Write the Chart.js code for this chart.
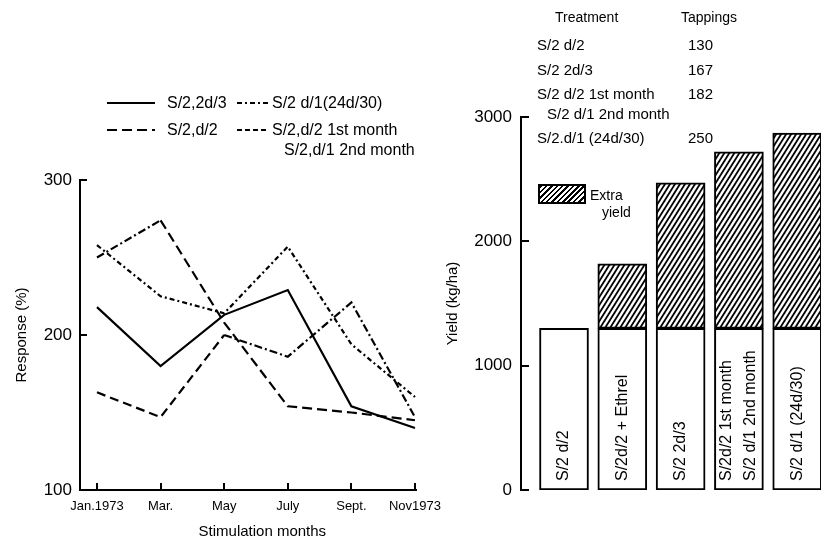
<!DOCTYPE html>
<html><head><meta charset="utf-8">
<script src="https://cdn.jsdelivr.net/npm/chart.js@4.4.1/dist/chart.umd.min.js"></script>
<style>
body{margin:0;background:#fff;width:821px;height:542px;overflow:hidden;position:relative;font-family:"Liberation Sans",Arial,sans-serif;color:#000}
canvas{position:absolute;top:0}
.t{position:absolute;white-space:nowrap;line-height:1;transform:translateY(-50%)}
.hatch{position:absolute;border:2px solid #000;box-sizing:border-box;background:repeating-linear-gradient(135deg,#000 0 1.7px,#fff 1.7px 3.8px)}
</style></head><body>
<canvas id="c1" width="460" height="542" style="left:0"></canvas>
<canvas id="c2" width="391" height="542" style="left:430px"></canvas>
<div id="ov"></div>
<script>
// ---- Left chart data (Response %, by stimulation month) ----
const months = ['Jan.1973', 'Mar.', 'May', 'July', 'Sept.', 'Nov1973'];
const respS2_2d3 = [218, 180, 213, 229, 154, 140];
const respS2_d2 = [250, 274, 208, 154, 150, 145];
const respS2_d1_24d30 = [258, 225, 214, 257, 194, 160];
const respS2_d2first_d1second = [163, 147, 200, 186, 221, 147];
const responseTicks = [100, 200, 300];

// ---- Right chart data (Yield kg/ha) ----
const barLabels = ['S/2 d/2', 'S/2d/2 + Ethrel', 'S/2 2d/3', 'S/2d/2 1st month\nS/2 d/1 2nd month', 'S/2 d/1 (24d/30)'];
const baseYield = [1300, 1300, 1300, 1300, 1300];
const extraYield = [0, 520, 1170, 1420, 1570];
const yieldTicks = [0, 1000, 2000, 3000];

// ---- Table data ----
const tableTreatments = ['S/2 d/2', 'S/2 2d/3', 'S/2 d/2 1st month', 'S/2.d/1 (24d/30)'];
const tableSubline = ['', '', 'S/2 d/1 2nd month', ''];
const tableTappings = [130, 167, 182, 250];

const FONT = '"Liberation Sans", Arial, sans-serif';
Chart.defaults.font.family = FONT;
Chart.defaults.color = '#000';

const inwardTicks = {
  id: 'inwardTicks',
  afterDraw(chart, args, opts) {
    const {ctx, chartArea: a, scales} = chart;
    ctx.save(); ctx.strokeStyle = '#000'; ctx.lineWidth = 2;
    scales.y.ticks.forEach(t => {
      const py = Math.round(scales.y.getPixelForValue(t.value));
      ctx.beginPath(); ctx.moveTo(a.left, py); ctx.lineTo(a.left + opts.len, py); ctx.stroke();
    });
    if (opts.xTicks) {
      scales.x.ticks.forEach(t => {
        const px = Math.round(scales.x.getPixelForValue(t.value));
        ctx.beginPath(); ctx.moveTo(px, a.bottom); ctx.lineTo(px, a.bottom - opts.len); ctx.stroke();
      });
    }
    ctx.restore();
  }
};

const xTitle = {
  id: 'xTitle',
  afterDraw(chart, args, opts) {
    const {ctx, scales: {x}} = chart;
    ctx.save(); ctx.font = '15px ' + FONT; ctx.fillStyle = '#000';
    ctx.textAlign = 'center'; ctx.textBaseline = 'middle';
    ctx.fillText(opts.text, x.getPixelForValue(2.6), x.bottom - 10);
    ctx.restore();
  }
};

const styles = [
  {label: 'S/2,2d/3', data: respS2_2d3, dash: []},
  {label: 'S/2,d/2', data: respS2_d2, dash: [10, 5], seg0: [8, 3, 2, 3]},
  {label: 'S/2 d/1(24d/30)', data: respS2_d1_24d30, dash: [5, 3, 2, 3]},
  {label: 'S/2,d/2 1st month\nS/2,d/1 2nd month', data: respS2_d2first_d1second, dash: [9, 5], late: [8, 3, 2, 3]}
];

new Chart(document.getElementById('c1'), {
  type: 'line',
  data: {
    datasets: styles.map(s => ({
      label: s.label,
      data: s.data.map((v, i) => ({x: i, y: v})),
      borderColor: '#000', borderWidth: 2.2, pointRadius: 0, tension: 0, fill: false,
      borderDash: s.dash,
      segment: {
        borderDash: ctx => {
          if (s.seg0 && ctx.p0DataIndex === 0) return s.seg0;
          if (s.late && ctx.p0DataIndex >= 2) return s.late;
          return s.dash;
        }
      }
    }))
  },
  options: {
    responsive: false, animation: false,
    layout: {padding: {left: 0, top: 180, right: 44, bottom: 0}},
    plugins: {legend: {display: false}, tooltip: {enabled: false}, inwardTicks: {len: 7, xTicks: true}, xTitle: {text: 'Stimulation months'}},
    scales: {
      x: {
        type: 'linear', min: -0.267, max: 5.016,
        afterBuildTicks: s => { s.ticks = months.map((m, i) => ({value: i})); },
        afterFit: s => { s.height = 52; },
        grid: {display: false, drawTicks: false},
        border: {display: true, color: '#000', width: 2},
        ticks: {callback: v => months[v], padding: 9, autoSkip: false, maxRotation: 0, font: {size: 13}, color: '#000'}
      },
      y: {
        min: 100, max: 300,
        afterBuildTicks: s => { s.ticks = responseTicks.map(v => ({value: v})); },
        afterFit: s => { s.width = 80; },
        grid: {display: false, drawTicks: false},
        border: {display: true, color: '#000', width: 2},
        ticks: {padding: 8, font: {size: 17}, color: '#000', callback: v => String(v)},
        title: {display: true, text: 'Response (%)', font: {size: 15}, padding: {top: 13, bottom: 0}, color: '#000'}
      }
    }
  },
  plugins: [inwardTicks, xTitle]
});

// hatch pattern
function makeHatch() {
  const c = document.createElement('canvas'); c.width = 5; c.height = 8;
  const g = c.getContext('2d');
  g.fillStyle = '#fff'; g.fillRect(0, 0, 5, 8);
  g.strokeStyle = '#000'; g.lineWidth = 1.8;
  [-5, 0, 5].forEach(o => { g.beginPath(); g.moveTo(o - 1, 9.6); g.lineTo(o + 6, -1.6); g.stroke(); });
  return g.createPattern(c, 'repeat');
}
const hatch = makeHatch();

const barLabelPlugin = {
  id: 'barLabels',
  afterDatasetsDraw(chart) {
    const {ctx, scales: {x, y}} = chart;
    ctx.save(); ctx.fillStyle = '#000'; ctx.font = '16px ' + FONT;
    ctx.textAlign = 'left'; ctx.textBaseline = 'middle';
    barLabels.forEach((lab, i) => {
      const lines = lab.split('\n');
      const cx = x.getPixelForValue(i);
      const y0 = y.getPixelForValue(0) - 9;
      lines.forEach((ln, j) => {
        const dx = (j - (lines.length - 1) / 2) * 24;
        ctx.save(); ctx.translate(cx + dx, y0); ctx.rotate(-Math.PI / 2); ctx.fillText(ln, 0, 0); ctx.restore();
      });
    });
    ctx.restore();
  }
};

new Chart(document.getElementById('c2'), {
  type: 'bar',
  data: {
    datasets: [
      {label: 'Base yield', data: baseYield.map((v, i) => ({x: i, y: v})), backgroundColor: '#fff', borderColor: '#000', borderWidth: 2, borderSkipped: false, barThickness: 49},
      {label: 'Extra yield', data: extraYield.map((v, i) => ({x: i, y: v})), backgroundColor: hatch, borderColor: '#000', borderWidth: 2, borderSkipped: false, barThickness: 49}
    ]
  },
  options: {
    responsive: false, animation: false,
    layout: {padding: {left: 0, top: 117, right: 0, bottom: 52}},
    plugins: {legend: {display: false}, tooltip: {enabled: false}, inwardTicks: {len: 8, xTicks: false}},
    scales: {
      x: {type: 'linear', min: -0.7376, max: 4.408, stacked: true, display: false, offset: false},
      y: {
        stacked: true, min: 0, max: 3000,
        afterBuildTicks: s => { s.ticks = yieldTicks.map(v => ({value: v})); },
        afterFit: s => { s.width = 91; },
        grid: {display: false, drawTicks: false},
        border: {display: true, color: '#000', width: 2},
        ticks: {padding: 9, font: {size: 17}, color: '#000', callback: v => String(v)},
        title: {display: true, text: 'Yield (kg/ha)', font: {size: 15}, padding: {top: 14, bottom: 0}, color: '#000'}
      }
    }
  },
  plugins: [inwardTicks, barLabelPlugin]
});
</script>
<script>
// HTML overlays: left legend, table, extra-yield key
(function () {
  const ov = document.getElementById('ov');
  function txt(s, x, y, size) {
    const d = document.createElement('div'); d.className = 't'; d.textContent = s;
    d.style.left = x + 'px'; d.style.top = y + 'px'; d.style.fontSize = (size || 15) + 'px'; ov.appendChild(d); return d;
  }
  function line(x1, x2, y, dash) {
    const ns = 'http://www.w3.org/2000/svg';
    const svg = document.createElementNS(ns, 'svg');
    svg.setAttribute('width', x2 - x1); svg.setAttribute('height', 6);
    svg.style.position = 'absolute'; svg.style.left = x1 + 'px'; svg.style.top = (y - 3) + 'px';
    const l = document.createElementNS(ns, 'line');
    l.setAttribute('x1', 0); l.setAttribute('x2', x2 - x1); l.setAttribute('y1', 3); l.setAttribute('y2', 3);
    l.setAttribute('stroke', '#000'); l.setAttribute('stroke-width', 2.2);
    if (dash.length) l.setAttribute('stroke-dasharray', dash.join(' '));
    svg.appendChild(l); ov.appendChild(svg);
  }
  // legend (order: solid, dash on left column; dash-dot, short dash on right column)
  const pos = [[107, 155, 167, 103], [107, 155, 167, 130], [237, 268, 272, 103], [237, 268, 272, 130]];
  const dashes = [[], [10, 5], [5, 3, 2, 3], [5, 3]];
  styles.forEach((s, i) => {
    const p = pos[i];
    line(p[0], p[1], p[3], dashes[i]);
    const parts = s.label.split('\n');
    txt(parts[0], p[2], p[3], 16);
    if (parts[1]) txt(parts[1], p[2] + 12, p[3] + 20, 16);
  });
  // table
  txt('Treatment', 555, 17, 14);
  txt('Tappings', 681, 17, 14);
  const rowY = [44, 69, 93, 137];
  tableTreatments.forEach((t, i) => {
    txt(t, 537, rowY[i], 15);
    if (tableSubline[i]) txt(tableSubline[i], 547, rowY[i] + 20, 15);
    txt(String(tableTappings[i]), 688, rowY[i], 15);
  });
  // extra yield key
  const k = document.createElement('div'); k.className = 'hatch';
  k.style.left = '538px'; k.style.top = '184px'; k.style.width = '48px'; k.style.height = '20px'; ov.appendChild(k);
  txt('Extra', 590, 195, 14);
  txt('yield', 602, 212, 14);
})();
</script>
</body></html>
